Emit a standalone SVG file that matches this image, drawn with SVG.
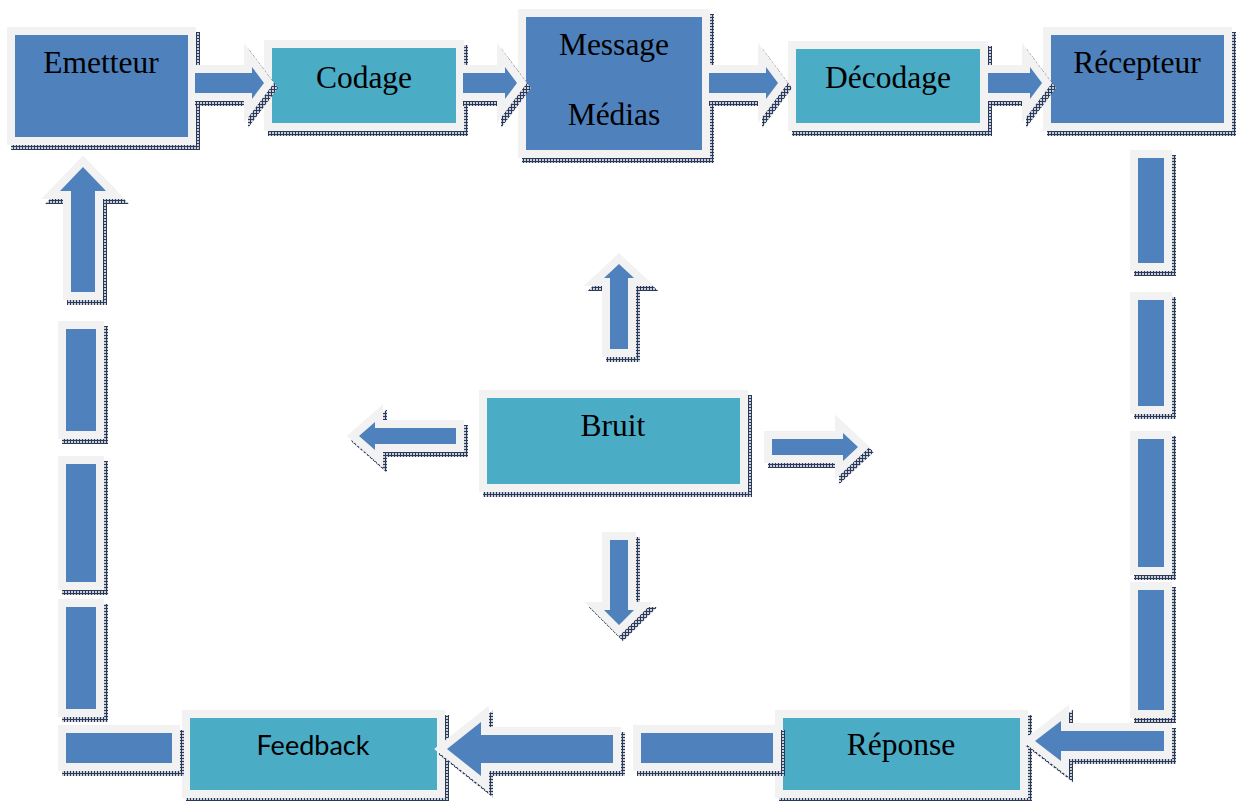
<svg xmlns="http://www.w3.org/2000/svg" width="1237" height="801" viewBox="0 0 1237 801">
<defs>
<pattern id="hatch" width="3" height="3" patternUnits="userSpaceOnUse">
<rect width="3" height="3" fill="#c9ced8"/>
<rect width="3" height="1" fill="#2b3a58"/>
<rect width="1" height="3" fill="#2b3a58"/>
</pattern>
<style>
.sh{fill:url(#hatch);stroke:url(#hatch);stroke-width:16;stroke-linejoin:miter;stroke-miterlimit:10}
.fr{fill:#f2f2f2;stroke:#f2f2f2;stroke-width:16;stroke-linejoin:miter;stroke-miterlimit:10}
.b{fill:#4f81bd}
.t{fill:#4bacc6}
.lbl{font-family:"Liberation Serif","Times New Roman",serif;font-size:31.5px;fill:#000;text-anchor:middle}
.lbl2{font-family:Lato,"Open Sans","Liberation Sans",sans-serif;font-size:26px;fill:#000;text-anchor:middle}
</style>
<rect id="n1" x="15" y="35" width="173" height="102"/>
<rect id="n2" x="272" y="48" width="184" height="75"/>
<rect id="n3" x="526" y="17" width="176" height="133"/>
<rect id="n4" x="796" y="49" width="184" height="74"/>
<rect id="n5" x="1051" y="35" width="173" height="88"/>
<rect id="n6" x="487" y="398" width="253" height="86"/>
<rect id="n7" x="190" y="718" width="247" height="72"/>
<rect id="n8" x="783" y="718" width="237" height="72"/>
<polygon id="p1" points="180,73 252,73 252,67 264,83 252,99 252,93 180,93"/>
<polygon id="p2" points="450,73 505,73 505,67 517,83 505,99 505,93 450,93"/>
<polygon id="p3" points="695,73 766,73 766,67 778,83 766,99 766,93 695,93"/>
<polygon id="p4" points="975,73 1030,73 1030,67 1042,83 1030,99 1030,93 975,93"/>
<polygon id="pUp" points="610,349 610,278 604,278 619,264 634,278 628,278 628,349"/>
<polygon id="pDn" points="610,540 628,540 628,610 634,610 619,625 604,610 610,610"/>
<polygon id="pLt" points="456,428 375,428 375,422 359,436 375,450 375,444 456,444"/>
<polygon id="pRt" points="772,439 843,439 843,433 858,447 843,461 843,455 772,455"/>
<polygon id="pRa" points="1164,731 1061,731 1061,721 1035,741 1061,761 1061,751 1164,751"/>
<polygon id="pFa" points="613,735 481,735 481,722 447,749 481,776 481,763 613,763"/>
<polygon id="pL1" points="71,292 71,191 60,191 83,167 106,191 95,191 95,292"/>
<rect id="r1" x="1138" y="158" width="26" height="105"/>
<rect id="r2" x="1138" y="300" width="26" height="106"/>
<rect id="r3" x="1138" y="439" width="26" height="128"/>
<rect id="r4" x="1138" y="590" width="26" height="120"/>
<rect id="l2" x="66" y="329" width="30" height="102"/>
<rect id="l3" x="66" y="464" width="30" height="118"/>
<rect id="l4" x="66" y="607" width="30" height="102"/>
<rect id="l5" x="66" y="733" width="106" height="30"/>
<rect id="b6" x="641" y="733" width="132" height="30"/>
<clipPath id="k1"><rect x="195" y="0" width="1042" height="801"/></clipPath>
<clipPath id="k2"><rect x="463" y="0" width="774" height="801"/></clipPath>
<clipPath id="k3"><rect x="709" y="0" width="528" height="801"/></clipPath>
<clipPath id="k4"><rect x="988" y="0" width="249" height="801"/></clipPath>
</defs>
<rect width="1237" height="801" fill="#ffffff"/>

<g id="emetteur"><use href="#n1" class="sh" transform="translate(4,5)"/><use href="#n1" class="fr"/><use href="#n1" class="b"/><text class="lbl" x="101" y="73">Emetteur</text></g>
<g id="codage"><use href="#n2" class="sh" transform="translate(4,5)"/><use href="#n2" class="fr"/><use href="#n2" class="t"/><text class="lbl" x="364" y="88">Codage</text></g>
<g id="message"><use href="#n3" class="sh" transform="translate(4,5)"/><use href="#n3" class="fr"/><use href="#n3" class="b"/><text class="lbl" x="614" y="55">Message</text><text class="lbl" x="614" y="125">Médias</text></g>
<g id="decodage"><use href="#n4" class="sh" transform="translate(4,5)"/><use href="#n4" class="fr"/><use href="#n4" class="t"/><text class="lbl" x="888" y="88">Décodage</text></g>
<g id="recepteur"><use href="#n5" class="sh" transform="translate(4,5)"/><use href="#n5" class="fr"/><use href="#n5" class="b"/><text class="lbl" x="1137" y="73">Récepteur</text></g>
<g id="bruit"><use href="#n6" class="sh" transform="translate(4,5)"/><use href="#n6" class="fr"/><use href="#n6" class="t"/><text class="lbl" x="613" y="436">Bruit</text></g>
<g id="feedback"><use href="#n7" class="sh" transform="translate(4,5)"/><use href="#n7" class="fr"/><use href="#n7" class="t"/><text class="lbl2" x="313" y="755" textLength="113" lengthAdjust="spacingAndGlyphs">Feedback</text></g>
<g id="reponse"><use href="#n8" class="sh" transform="translate(4,5)"/><use href="#n8" class="fr"/><use href="#n8" class="t"/><text class="lbl" x="901" y="755">Réponse</text></g>

<g id="connectors">
<g clip-path="url(#k1)"><use href="#p1" class="sh" transform="translate(4,5)"/><use href="#p1" class="fr"/><use href="#p1" class="b"/></g>
<g clip-path="url(#k2)"><use href="#p2" class="sh" transform="translate(4,5)"/><use href="#p2" class="fr"/><use href="#p2" class="b"/></g>
<g clip-path="url(#k3)"><use href="#p3" class="sh" transform="translate(4,5)"/><use href="#p3" class="fr"/><use href="#p3" class="b"/></g>
<g clip-path="url(#k4)"><use href="#p4" class="sh" transform="translate(4,5)"/><use href="#p4" class="fr"/><use href="#p4" class="b"/></g>
<g><use href="#r1" class="sh" transform="translate(4,5)"/><use href="#r1" class="fr"/><use href="#r1" class="b"/></g>
<g><use href="#r2" class="sh" transform="translate(4,5)"/><use href="#r2" class="fr"/><use href="#r2" class="b"/></g>
<g><use href="#r3" class="sh" transform="translate(4,5)"/><use href="#r3" class="fr"/><use href="#r3" class="b"/></g>
<g><use href="#r4" class="sh" transform="translate(4,5)"/><use href="#r4" class="fr"/><use href="#r4" class="b"/></g>
<g><use href="#pRa" class="sh" transform="translate(4,5)"/><use href="#pRa" class="fr"/><use href="#pRa" class="b"/></g>
<g><use href="#b6" class="sh" transform="translate(4,5)"/><use href="#b6" class="fr"/><use href="#b6" class="b"/></g>
<g><use href="#pFa" class="sh" transform="translate(4,5)"/><use href="#pFa" class="fr"/><use href="#pFa" class="b"/></g>
<g><use href="#l5" class="sh" transform="translate(4,5)"/><use href="#l5" class="fr"/><use href="#l5" class="b"/></g>
<g><use href="#l4" class="sh" transform="translate(4,5)"/><use href="#l4" class="fr"/><use href="#l4" class="b"/></g>
<g><use href="#l3" class="sh" transform="translate(4,5)"/><use href="#l3" class="fr"/><use href="#l3" class="b"/></g>
<g><use href="#l2" class="sh" transform="translate(4,5)"/><use href="#l2" class="fr"/><use href="#l2" class="b"/></g>
<g><use href="#pL1" class="sh" transform="translate(4,5)"/><use href="#pL1" class="fr"/><use href="#pL1" class="b"/></g>
<g><use href="#pUp" class="sh" transform="translate(4,5)"/><use href="#pUp" class="fr"/><use href="#pUp" class="b"/></g>
<g><use href="#pDn" class="sh" transform="translate(4,5)"/><use href="#pDn" class="fr"/><use href="#pDn" class="b"/></g>
<g><use href="#pLt" class="sh" transform="translate(4,5)"/><use href="#pLt" class="fr"/><use href="#pLt" class="b"/></g>
<g><use href="#pRt" class="sh" transform="translate(4,5)"/><use href="#pRt" class="fr"/><use href="#pRt" class="b"/></g>
</g>
</svg>
